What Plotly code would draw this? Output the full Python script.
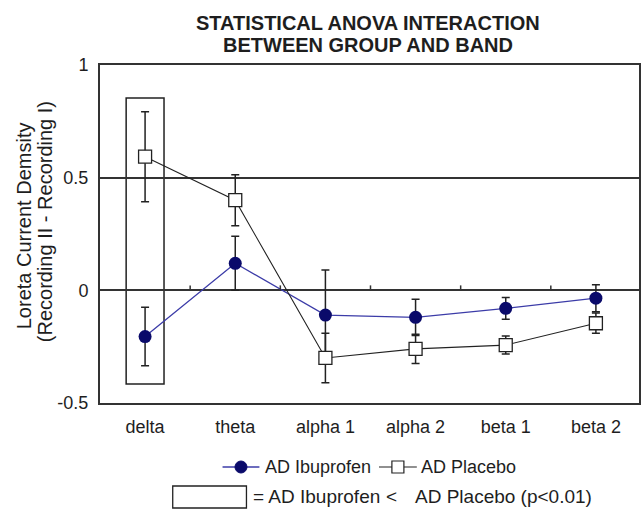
import plotly.graph_objects as go

bands = ["delta", "theta", "alpha 1", "alpha 2", "beta 1", "beta 2"]
ibuprofen = [-0.205, 0.12, -0.11, -0.12, -0.08, -0.035]
ibuprofen_err = [0.13, 0.12, 0.2, 0.08, 0.048, 0.06]
placebo = [0.593, 0.40, -0.30, -0.26, -0.243, -0.146]
placebo_err = [0.2, 0.113, 0.11, 0.065, 0.04, 0.045]
y_ticks = [1, 0.5, 0, -0.5]
y_tick_labels = ["1", "0.5", "0", "-0.5"]

FONT = "Liberation Sans, Arial, sans-serif"
TXT = "#1e1e1e"
BLUE_LINE = "#3c3ca8"
BLUE_MARK = "#0a0a6a"
W, H = 641, 511
ML, MR, MT, MB = 100, 0, 65, 108
PW, PH = W - ML - MR, H - MT - MB


def px(x):
    return (x - ML) / PW


def py(y):
    return (H - MB - y) / PH


xpos = list(range(len(bands)))

fig = go.Figure()
fig.add_trace(go.Scatter(
    x=xpos, y=ibuprofen, name="AD Ibuprofen", mode="lines+markers",
    line=dict(color=BLUE_LINE, width=1.3),
    marker=dict(symbol="circle", size=13, color=BLUE_MARK),
    error_y=dict(type="data", array=ibuprofen_err, color="#222222", thickness=1.5, width=4),
))
fig.add_trace(go.Scatter(
    x=xpos, y=placebo, name="AD Placebo", mode="lines+markers",
    line=dict(color="#222222", width=1.1),
    marker=dict(symbol="square", size=13, color="white", line=dict(color="#222222", width=1.3)),
    error_y=dict(type="data", array=placebo_err, color="#222222", thickness=1.5, width=4),
))

shapes = []
# significance box around delta
shapes.append(dict(type="rect", xref="x", yref="y", x0=-0.21, x1=0.21, y0=-0.416, y1=0.854,
                   line=dict(color="#222222", width=1.5), fillcolor="rgba(0,0,0,0)", layer="below"))
# small tick marks on the zero line between categories
for k in range(len(bands) - 1):
    shapes.append(dict(type="line", xref="x", yref="y", x0=k + 0.5, x1=k + 0.5, y0=0, y1=0.022,
                       line=dict(color="#333333", width=1.5)))

# custom legend, row 1
ly = py(467)
shapes.append(dict(type="line", xref="paper", yref="paper", x0=px(223), x1=px(260), y0=ly, y1=ly,
                   line=dict(color=BLUE_LINE, width=1.5)))
shapes.append(dict(type="circle", xref="paper", yref="paper", xsizemode="pixel", ysizemode="pixel",
                   xanchor=px(241.5), yanchor=ly, x0=-6, x1=6, y0=-6, y1=6,
                   line=dict(color=BLUE_MARK, width=1), fillcolor=BLUE_MARK))
shapes.append(dict(type="line", xref="paper", yref="paper", x0=px(380), x1=px(418), y0=ly, y1=ly,
                   line=dict(color="#222222", width=1.2)))
shapes.append(dict(type="rect", xref="paper", yref="paper", xsizemode="pixel", ysizemode="pixel",
                   xanchor=px(399), yanchor=ly, x0=-6, x1=6, y0=-6, y1=6,
                   line=dict(color="#222222", width=1.2), fillcolor="white"))
# custom legend, row 2 box
shapes.append(dict(type="rect", xref="paper", yref="paper", x0=px(173), x1=px(247), y0=py(508), y1=py(486),
                   line=dict(color="#222222", width=1.3), fillcolor="white"))


def label(text, x, y, size=18, anchor="left"):
    return dict(text=text, xref="paper", yref="paper", x=x, y=y, xanchor=anchor, yanchor="middle",
                showarrow=False, font=dict(family=FONT, size=size, color=TXT))


annotations = [
    label("<b>STATISTICAL ANOVA INTERACTION</b>", px(369), py(23), 20, "center"),
    label("<b>BETWEEN GROUP AND BAND</b>", px(369), py(45), 20, "center"),
    dict(text="Loreta Current Demsity", xref="paper", yref="paper", textangle=-90,
         x=px(24), y=py(226), xanchor="center", yanchor="middle", showarrow=False,
         font=dict(family=FONT, size=20, color=TXT)),
    dict(text="(Recording II - Recording I)", xref="paper", yref="paper", textangle=-90,
         x=px(45), y=py(222), xanchor="center", yanchor="middle", showarrow=False,
         font=dict(family=FONT, size=20, color=TXT)),
    label("AD Ibuprofen", px(264), ly, 18),
    label("AD Placebo", px(420), ly, 18),
    label("= AD Ibuprofen", px(252), py(496), 19),
    label("&lt;", px(385), py(496), 19),
    label("AD Placebo (p&lt;0.01)", px(414), py(496), 19),
]

fig.update_layout(
    width=W, height=H,
    margin=dict(l=ML, r=MR, t=MT, b=MB),
    paper_bgcolor="white", plot_bgcolor="white",
    font=dict(family=FONT, size=18, color=TXT),
    showlegend=False,
    shapes=shapes, annotations=annotations,
)
fig.update_xaxes(
    range=[-0.5, 5.478], tickvals=xpos, ticktext=bands, showgrid=False, zeroline=False,
    showline=True, linecolor="#333333", linewidth=2, mirror=True, ticks="",
    tickfont=dict(family=FONT, size=18, color=TXT), ticklabelstandoff=6,
)
fig.update_yaxes(
    range=[-0.5, 1.0], tickvals=y_ticks, ticktext=y_tick_labels, showgrid=True,
    gridcolor="#333333", gridwidth=1.5, zeroline=False,
    showline=True, linecolor="#333333", linewidth=2, mirror=True, ticks="",
    tickfont=dict(family=FONT, size=18, color=TXT), ticklabelstandoff=6,
)

fig.write_html("out.html", config={"displayModeBar": False},
               post_script="document.body.style.margin='0';")
